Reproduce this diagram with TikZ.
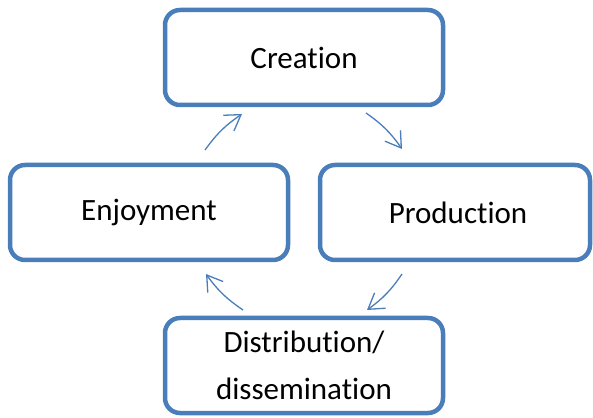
\documentclass[tikz,border=0pt]{standalone}
\usepackage{fontspec}
\setmainfont[Ligatures={NoCommon}]{Carlito}
\usetikzlibrary{arrows.meta}
\definecolor{boxblue}{HTML}{4A7EBB}

\begin{document}
\begin{tikzpicture}[x=1pt,y=1pt,
	stage/.style={draw=boxblue,line width=4.5pt,rounded corners=15pt,fill=white,
		minimum width=278pt,minimum height=95pt,align=center,inner sep=0pt,
		font=\fontsize{31}{47}\selectfont},
	flow/.style={draw=boxblue,line width=1.3pt,
		-{Straight Barb[length=15pt,width=19pt]}}]
	\useasboundingbox (0,0) rectangle (593,417);
	\node[stage] (cre) at (304,359.5) {Creation};
	\node[stage] (enj) at (149,204.5) {Enjoyment};
	\node[stage,minimum width=270pt] (pro) at (455,204.5) {\hspace*{6pt}Production};
	\node[stage] (dis) at (304,51.5) {Distribution/\\dissemination};
	% arrow ends
	\coordinate (ec1) at (205,267);
	\coordinate (ec2) at (242,303);
	\coordinate (cp1) at (366,304);
	\coordinate (cp2) at (402,268);
	\coordinate (pd1) at (402,143);
	\coordinate (pd2) at (367,107);
	\coordinate (de1) at (243,107);
	\coordinate (de2) at (206,143);
	\draw[flow] (ec1) to[bend left=10] (ec2);
	\draw[flow] (cp1) to[bend left=10] (cp2);
	\draw[flow] (pd1) to[bend left=10] (pd2);
	\draw[flow] (de1) to[bend left=10] (de2);
\end{tikzpicture}
\end{document}
